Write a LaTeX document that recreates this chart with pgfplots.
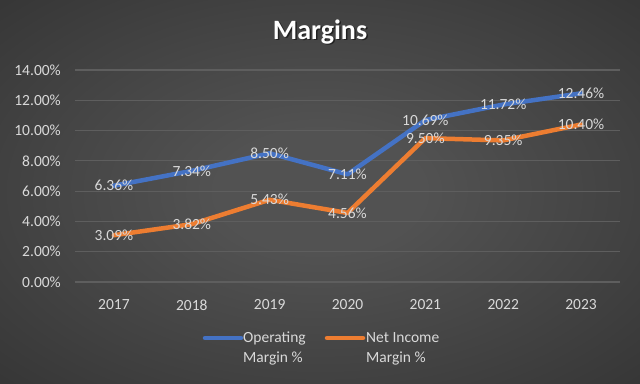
\documentclass[border=0pt]{standalone}
\usepackage{pgfplots}
\pgfplotsset{compat=1.18}
\usepackage{fontspec}
\setmainfont{Carlito}
\definecolor{opblue}{HTML}{4472C4}
\definecolor{niorange}{HTML}{ED7D31}
\definecolor{txt}{HTML}{D9D9D9}
\definecolor{gridc}{HTML}{5E5E5E}
\definecolor{bgin}{HTML}{525252}
\definecolor{bgout}{HTML}{262626}
\pgfdeclareradialshading{bgshade}{\pgfpoint{0bp}{0bp}}{color(0bp)=(bgin); color(8bp)=(bgin); color(52bp)=(bgout)}
\pgfplotstableread{
x op ni
0 6.36 3.09
1 7.34 3.82
2 8.50 5.43
3 7.11 4.56
4 10.69 9.50
5 11.72 9.35
6 12.46 10.40
}\margins
\begin{document}
\begin{tikzpicture}[x=1pt,y=1pt]
\shade[shading=bgshade] (0,0) rectangle (640,383);
\node[font=\fontsize{28}{30}\selectfont\bfseries, text=black, opacity=0.5] at (321.5,349.5) {Margins};
\node[font=\fontsize{28}{30}\selectfont\bfseries, text=white] at (320,351) {Margins};
\begin{axis}[
  at={(75pt,101pt)}, anchor=south west,
  scale only axis, width=545pt, height=212pt,
  xmin=-0.5, xmax=6.5, ymin=0, ymax=14,
  xtick={0,...,6}, xticklabels={2017,2018,2019,2020,2021,2022,2023},
  ytick={0,2,...,14},
  yticklabel={\pgfmathprintnumber[fixed,fixed zerofill,precision=2]{\tick}\%},
  /pgf/number format/assume math mode=true,
  axis line style={draw=none},
  major tick length=0pt,
  ymajorgrids, grid style={gridc, line width=1.2pt},
  tick label style={font=\fontsize{15.5}{18}\selectfont, text=txt},
  xticklabel style={anchor=center, inner sep=0pt, yshift=-23pt},
  yticklabel style={anchor=east, inner sep=0pt, xshift=-14pt},
  clip=false,
  nodes near coords={\pgfmathprintnumber[fixed,fixed zerofill,precision=2]{\pgfplotspointmeta}\%},
  every node near coord/.append style={anchor=center, font=\fontsize{15.5}{18}\selectfont, text=txt, inner sep=0pt},
  point meta=y,
]
\addplot[opblue, line width=4.5pt, line join=round, line cap=round] table[x=x,y=op] {\margins};
\addplot[niorange, line width=4.5pt, line join=round, line cap=round] table[x=x,y=ni] {\margins};
\end{axis}
% legend
\draw[opblue, line width=4.5pt, line cap=round] (205,45) -- (241,45);
\node[anchor=base west, inner sep=0pt, font=\fontsize{15.5}{18}\selectfont, text=txt] at (243,40) {Operating};
\node[anchor=base west, inner sep=0pt, font=\fontsize{15.5}{18}\selectfont, text=txt] at (243,20) {Margin \%};
\draw[niorange, line width=4.5pt, line cap=round] (327,45) -- (363,45);
\node[anchor=base west, inner sep=0pt, font=\fontsize{15.5}{18}\selectfont, text=txt] at (366,40) {Net Income};
\node[anchor=base west, inner sep=0pt, font=\fontsize{15.5}{18}\selectfont, text=txt] at (366,20) {Margin \%};
\end{tikzpicture}
\end{document}
